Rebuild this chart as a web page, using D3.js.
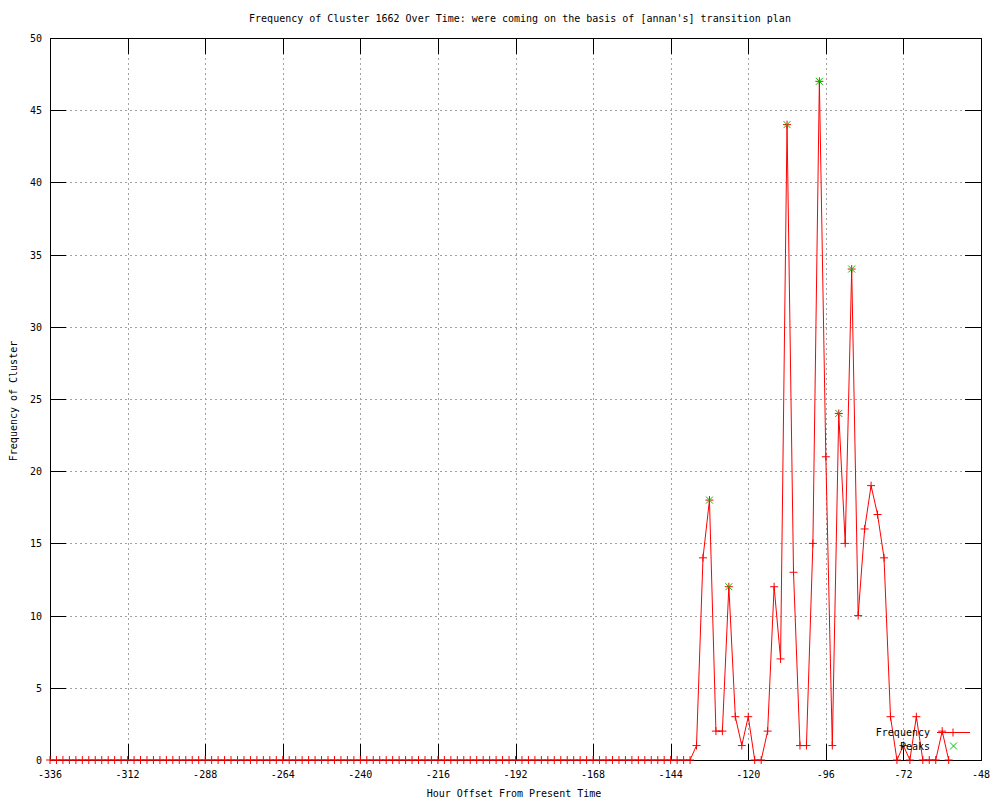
<!DOCTYPE html>
<html>
<head>
<meta charset="utf-8">
<script src="https://cdn.jsdelivr.net/npm/d3@7"></script>
<style>
  body { margin: 0; background: #fff; }
  svg text { font-family: "DejaVu Sans Mono", "Liberation Mono", monospace; font-size: 10px; fill: #000; }
</style>
</head>
<body>
<div id="chart"></div>
<script>
const hours = [
  -336, -334, -332, -330, -328, -326, -324, -322, -320, -318, -316, -314, -312, -310, -308, -306, -304, -302, -300, -298,
  -296, -294, -292, -290, -288, -286, -284, -282, -280, -278, -276, -274, -272, -270, -268, -266, -264, -262, -260, -258,
  -256, -254, -252, -250, -248, -246, -244, -242, -240, -238, -236, -234, -232, -230, -228, -226, -224, -222, -220, -218,
  -216, -214, -212, -210, -208, -206, -204, -202, -200, -198, -196, -194, -192, -190, -188, -186, -184, -182, -180, -178,
  -176, -174, -172, -170, -168, -166, -164, -162, -160, -158, -156, -154, -152, -150, -148, -146, -144, -142, -140, -138,
  -136, -134, -132, -130, -128, -126, -124, -122, -120, -118, -116, -114, -112, -110, -108, -106, -104, -102, -100, -98,
  -96, -94, -92, -90, -88, -86, -84, -82, -80, -78, -76, -74, -72, -70, -68, -66, -64, -62, -60, -58
];
const frequency = [
  0, 0, 0, 0, 0, 0, 0, 0, 0, 0, 0, 0, 0, 0, 0, 0, 0, 0, 0, 0,
  0, 0, 0, 0, 0, 0, 0, 0, 0, 0, 0, 0, 0, 0, 0, 0, 0, 0, 0, 0,
  0, 0, 0, 0, 0, 0, 0, 0, 0, 0, 0, 0, 0, 0, 0, 0, 0, 0, 0, 0,
  0, 0, 0, 0, 0, 0, 0, 0, 0, 0, 0, 0, 0, 0, 0, 0, 0, 0, 0, 0,
  0, 0, 0, 0, 0, 0, 0, 0, 0, 0, 0, 0, 0, 0, 0, 0, 0, 0, 0, 0,
  1, 14, 18, 2, 2, 12, 3, 1, 3, 0, 0, 2, 12, 7, 44, 13, 1, 1, 15, 47,
  21, 1, 24, 15, 34, 10, 16, 19, 17, 14, 3, 0, 1, 0, 3, 0, 0, 0, 2, 0
];
const peakHours = [-132, -126, -108, -98, -92, -88];
const peakValues = [18, 12, 44, 47, 24, 34];
const xTicks = [-336, -312, -288, -264, -240, -216, -192, -168, -144, -120, -96, -72, -48];
const yTicks = [0, 5, 10, 15, 20, 25, 30, 35, 40, 45, 50];

const titleText = "Frequency of Cluster 1662 Over Time: were coming on the basis of [annan's] transition plan";
const xLabel = "Hour Offset From Present Time";
const yLabel = "Frequency of Cluster";

const W = 1000, H = 800;
const m = { left: 50, right: 981, top: 38, bottom: 760 };

const svg = d3.select("#chart").append("svg")
  .attr("width", W)
  .attr("height", H);

const x = d3.scaleLinear().domain([-336, -48]).range([m.left, m.right]);
const y = d3.scaleLinear().domain([0, 50]).range([m.bottom, m.top]);

// grid
const grid = svg.append("g")
  .attr("stroke", "#a0a0a0")
  .attr("stroke-dasharray", "2,3")
  .attr("shape-rendering", "crispEdges");
grid.selectAll(".gx").data(xTicks.slice(1, -1)).enter().append("line")
  .attr("x1", d => Math.round(x(d)) + 0.5).attr("x2", d => Math.round(x(d)) + 0.5)
  .attr("y1", m.top).attr("y2", m.bottom);
grid.selectAll(".gy").data(yTicks.slice(1, -1)).enter().append("line")
  .attr("y1", d => Math.round(y(d)) + 0.5).attr("y2", d => Math.round(y(d)) + 0.5)
  .attr("x1", m.left).attr("x2", m.right);

// ticks, mirrored on all sides
const tickLen = 16;
const ticks = svg.append("g").attr("stroke", "#000").attr("shape-rendering", "crispEdges");
xTicks.forEach(d => {
  const px = Math.round(x(d)) + 0.5;
  ticks.append("line").attr("x1", px).attr("x2", px).attr("y1", m.bottom).attr("y2", m.bottom - tickLen);
  ticks.append("line").attr("x1", px).attr("x2", px).attr("y1", m.top).attr("y2", m.top + tickLen);
});
yTicks.forEach(d => {
  const py = Math.round(y(d)) + 0.5;
  ticks.append("line").attr("y1", py).attr("y2", py).attr("x1", m.left).attr("x2", m.left + tickLen);
  ticks.append("line").attr("y1", py).attr("y2", py).attr("x1", m.right).attr("x2", m.right - tickLen);
});

// border
svg.append("rect")
  .attr("x", m.left + 0.5).attr("y", m.top + 0.5)
  .attr("width", m.right - m.left).attr("height", m.bottom - m.top)
  .attr("fill", "none").attr("stroke", "#000")
  .attr("shape-rendering", "crispEdges");

// tick labels
svg.append("g").selectAll("text").data(xTicks).enter().append("text")
  .attr("x", d => x(d)).attr("y", 778)
  .attr("text-anchor", "middle")
  .text(d => d);
svg.append("g").selectAll("text").data(yTicks).enter().append("text")
  .attr("x", 42).attr("y", d => y(d) + 4)
  .attr("text-anchor", "end")
  .text(d => d);

// titles
svg.append("text").attr("x", 520).attr("y", 22).attr("text-anchor", "middle").text(titleText);
svg.append("text").attr("x", 514).attr("y", 797).attr("text-anchor", "middle").text(xLabel);
svg.append("text")
  .attr("transform", "translate(17,401) rotate(-90)")
  .attr("text-anchor", "middle")
  .text(yLabel);

// frequency line
const pts = hours.map((h, i) => ({ h: h, v: frequency[i] }));
const line = d3.line().x(d => x(d.h)).y(d => y(d.v));
svg.append("path")
  .datum(pts)
  .attr("d", line)
  .attr("fill", "none")
  .attr("stroke", "#ff0000")
  .attr("stroke-width", 1);

const plus = (g, cx, cy, s) => {
  g.append("line").attr("x1", cx - s).attr("x2", cx + s).attr("y1", cy).attr("y2", cy);
  g.append("line").attr("x1", cx).attr("x2", cx).attr("y1", cy - s).attr("y2", cy + s);
};
const cross = (g, cx, cy, s) => {
  g.append("line").attr("x1", cx - s).attr("x2", cx + s).attr("y1", cy - s).attr("y2", cy + s);
  g.append("line").attr("x1", cx - s).attr("x2", cx + s).attr("y1", cy + s).attr("y2", cy - s);
};

const redMarks = svg.append("g").attr("stroke", "#ff0000").attr("stroke-width", 1);
pts.forEach(d => plus(redMarks, x(d.h), y(d.v), 4));

const greenMarks = svg.append("g").attr("stroke", "#00c000").attr("stroke-width", 1);
peakHours.forEach((h, i) => cross(greenMarks, x(h), y(peakValues[i]), 3.5));

// legend
svg.append("text").attr("x", 930).attr("y", 736).attr("text-anchor", "end").text("Frequency");
svg.append("line").attr("x1", 937).attr("x2", 970).attr("y1", 732.5).attr("y2", 732.5)
  .attr("stroke", "#ff0000");
plus(redMarks, 953, 732.5, 4);
svg.append("text").attr("x", 930).attr("y", 750).attr("text-anchor", "end").text("Peaks");
cross(greenMarks, 953.5, 746, 3.5);
</script>
</body>
</html>
